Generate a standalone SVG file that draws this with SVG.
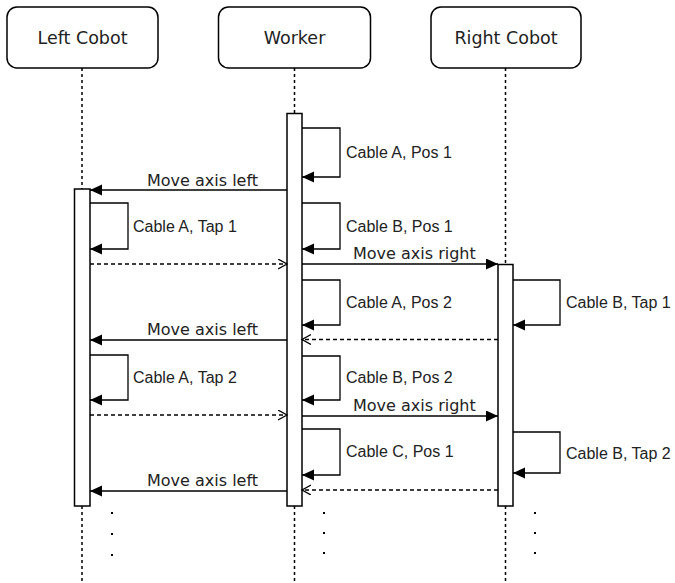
<svg xmlns="http://www.w3.org/2000/svg" width="675" height="583" viewBox="0 0 675 583">
<style>
.box{fill:#fff;stroke:#000;stroke-width:1.5}
.hdr{font-family:"DejaVu Sans",Verdana,sans-serif;font-size:17.5px;fill:#222;text-anchor:middle}
.msg{font-family:"DejaVu Sans",Verdana,sans-serif;font-size:16px;fill:#222}
.lbl{font-family:"Liberation Sans",Arial,sans-serif;font-size:16px;fill:#222}
.life{stroke:#000;stroke-width:1.5;stroke-dasharray:3 3;fill:none}
.act{fill:#fff;stroke:#000;stroke-width:1.5}
.sync{stroke:#000;stroke-width:1.3;fill:none;marker-end:url(#fa)}
.ret{stroke:#000;stroke-width:1.3;fill:none;stroke-dasharray:4 3;marker-end:url(#oa)}
.dot{fill:#000}
</style>
<defs>
<marker id="fa" markerUnits="userSpaceOnUse" markerWidth="14" markerHeight="12" refX="12" refY="5.5" orient="auto">
<path d="M0,0 L12,5.5 L0,11 z" fill="#000"/>
</marker>
<marker id="oa" markerUnits="userSpaceOnUse" markerWidth="12" markerHeight="12" refX="9" refY="5" orient="auto">
<path d="M0,0 L9,5 L0,10" fill="none" stroke="#000" stroke-width="1.3"/>
</marker>
</defs>

<g id="lifelines">
<line class="life" x1="82" y1="68" x2="82" y2="583"/>
<line class="life" x1="294.5" y1="68" x2="294.5" y2="583"/>
<line class="life" x1="505.5" y1="68" x2="505.5" y2="583"/>
</g>

<g id="left-cobot">
<rect class="box" x="7" y="7" width="151" height="61" rx="10"/>
<text class="hdr" x="82.5" y="44">Left Cobot</text>
<rect class="act" x="74.5" y="189" width="15.5" height="317"/>
</g>
<g id="worker">
<rect class="box" x="218.5" y="7" width="152" height="61" rx="10"/>
<text class="hdr" x="294.5" y="44">Worker</text>
<rect class="act" x="287" y="113.5" width="15" height="392.5"/>
</g>
<g id="right-cobot">
<rect class="box" x="431" y="7" width="150" height="61" rx="10"/>
<text class="hdr" x="506" y="44">Right Cobot</text>
<rect class="act" x="498" y="264.5" width="15" height="241.5"/>
</g>

<g id="connectors">
<!-- worker self loops -->
<path class="sync" d="M302,128 H340 V177 H302"/>
<path class="sync" d="M302,203 H340 V249 H302"/>
<path class="sync" d="M302,280 H340 V325 H302"/>
<path class="sync" d="M302,356 H340 V400 H302"/>
<path class="sync" d="M302,429 H340 V475 H302"/>
<!-- left self loops -->
<path class="sync" d="M90,203 H128 V249 H90"/>
<path class="sync" d="M90,355 H128 V400 H90"/>
<!-- right self loops -->
<path class="sync" d="M513,280 H560 V325 H513"/>
<path class="sync" d="M513,432 H560 V473 H513"/>
<!-- messages -->
<line class="sync" x1="287" y1="190" x2="90" y2="190"/>
<line class="ret" x1="90" y1="264" x2="287" y2="264"/>
<line class="sync" x1="302" y1="264" x2="498" y2="264"/>
<line class="ret" x1="498" y1="339.5" x2="302" y2="339.5"/>
<line class="sync" x1="287" y1="340" x2="90" y2="340"/>
<line class="ret" x1="90" y1="415" x2="287" y2="415"/>
<line class="sync" x1="302" y1="416" x2="498" y2="416"/>
<line class="ret" x1="498" y1="490" x2="302" y2="490"/>
<line class="sync" x1="287" y1="491" x2="90" y2="491"/>
</g>

<g id="labels">
<text class="msg" x="147" y="186">Move axis left</text>
<text class="msg" x="353" y="259">Move axis right</text>
<text class="msg" x="147" y="335">Move axis left</text>
<text class="msg" x="353" y="411">Move axis right</text>
<text class="msg" x="147" y="486">Move axis left</text>
<text class="lbl" x="346" y="158">Cable A, Pos 1</text>
<text class="lbl" x="346" y="232">Cable B, Pos 1</text>
<text class="lbl" x="346" y="308">Cable A, Pos 2</text>
<text class="lbl" x="346" y="383">Cable B, Pos 2</text>
<text class="lbl" x="346" y="457">Cable C, Pos 1</text>
<text class="lbl" x="133" y="232">Cable A, Tap 1</text>
<text class="lbl" x="133" y="383">Cable A, Tap 2</text>
<text class="lbl" x="566" y="308">Cable B, Tap 1</text>
<text class="lbl" x="566" y="459">Cable B, Tap 2</text>
</g>

<g id="ellipsis">
<rect class="dot" x="111" y="512" width="2" height="2"/>
<rect class="dot" x="111" y="533" width="2" height="2"/>
<rect class="dot" x="111" y="554" width="2" height="2"/>
<rect class="dot" x="323" y="512" width="2" height="2"/>
<rect class="dot" x="323" y="532" width="2" height="2"/>
<rect class="dot" x="323" y="552" width="2" height="2"/>
<rect class="dot" x="534" y="512" width="2" height="2"/>
<rect class="dot" x="534" y="532" width="2" height="2"/>
<rect class="dot" x="534" y="552" width="2" height="2"/>
</g>
</svg>
